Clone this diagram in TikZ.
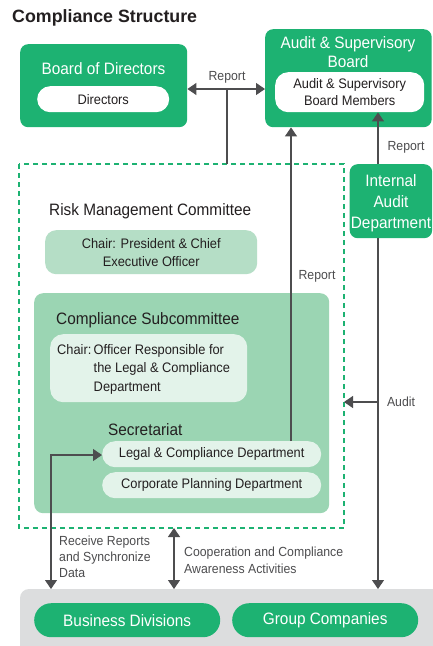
\documentclass[tikz,border=0pt]{standalone}
\usepackage{fontspec}
\setmainfont[FakeStretch=0.93]{Liberation Sans}
\newfontfamily\headfont{Liberation Sans}
\usetikzlibrary{arrows.meta,positioning}
\definecolor{acgreen}{RGB}{29,178,114}
\definecolor{acpale}{RGB}{181,222,198}
\definecolor{acmid}{RGB}{155,213,179}
\definecolor{aclight}{RGB}{227,243,234}
\definecolor{acgray}{RGB}{220,221,222}
\definecolor{acline}{RGB}{77,77,79}
\definecolor{actext}{RGB}{35,31,32}

\begin{document}
\begin{tikzpicture}[x=1pt,y=-1pt,
  greenbox/.style={fill=acgreen, rounded corners=8pt, inner sep=0pt, anchor=north west},
  pill/.style={rounded corners=#1, inner sep=0pt, anchor=north west},
  whitetext/.style={text=white, align=center, font=\fontsize{16.5}{19}\selectfont},
  darktext/.style={text=actext, align=center, font=\fontsize{13.8}{17.5}\selectfont},
  headtext/.style={text=actext, font=\fontsize{16.5}{18}\selectfont},
  labeltext/.style={text=acline, align=left, font=\fontsize{13.2}{16}\selectfont},
  conn/.style={draw=acline, line width=1.1pt},
  tip/.style={-{Triangle[length=9pt,width=12pt]}},
  tips/.style={{Triangle[length=9pt,width=12pt]}-{Triangle[length=9pt,width=12pt]}}
]
\useasboundingbox[fill=white] (0,0) rectangle (432,646);

% title
\node[anchor=west, inner sep=0pt, text=actext, font=\headfont\bfseries\fontsize{17.8}{20}\selectfont] (title) at (12,18) {Compliance Structure};

% board of directors
\node[greenbox, minimum width=167pt, minimum height=83pt] (bod) at (20,44) {};
\node[whitetext] (bodtitle) at (103.5,69) {Board of Directors};
\node[pill=13pt, fill=white, minimum width=132pt, minimum height=26pt, darktext] (dirs) at (37,86) {Directors};

% audit & supervisory board
\node[greenbox, minimum width=166.5pt, minimum height=98pt] (asb) at (265,29) {};
\node[whitetext, font=\fontsize{16.5}{18.5}\selectfont] (asbtitle) at (348,52) {Audit \& Supervisory\\Board};
\node[pill=13pt, fill=white, minimum width=149pt, minimum height=40pt, darktext, font=\fontsize{13.8}{17}\selectfont] (asbm) at (275,72) {Audit \& Supervisory\\Board Members};

% internal audit
\node[greenbox, minimum width=82.5pt, minimum height=74pt] (iad) at (349.5,164) {};
\node[whitetext, font=\fontsize{16.5}{21}\selectfont] (iadtitle) at (391,203) {Internal\\Audit\\Department};

% dashed frame
\draw[draw=acgreen, line width=1.5pt, dash pattern=on 5pt off 4pt] (19,164) rectangle (344,528);
\coordinate (frametop) at (227,164);
\coordinate (frameright) at (344,402);
\coordinate (framebottom) at (174,528);

% risk management committee
\node[headtext, anchor=west, inner sep=0pt] (rmc) at (49,211) {Risk Management Committee};
\node[pill=11pt, fill=acpale, minimum width=212pt, minimum height=44pt, darktext, font=\fontsize{13.8}{18}\selectfont] (rmcchair) at (45,230) {Chair: President \& Chief\\Executive Officer};

% compliance subcommittee
\node[pill=9pt, fill=acmid, minimum width=295pt, minimum height=220pt] (csc) at (34,293) {};
\node[headtext, anchor=west, inner sep=0pt] (csctitle) at (56,320) {Compliance Subcommittee};
\node[pill=13pt, fill=aclight, minimum width=197pt, minimum height=68pt] (cscchair) at (50,334) {};
\node[darktext, anchor=west, inner sep=0pt, align=left, font=\fontsize{13.8}{18.5}\selectfont] (cscchairtext) at (57,369)
  {\begin{tabular}{@{}l@{\,}l@{}}Chair: & Officer Responsible for\\ & the Legal \& Compliance\\ & Department\end{tabular}};
\node[headtext, anchor=west, inner sep=0pt] (secr) at (108,430) {Secretariat};
\node[pill=13pt, fill=aclight, minimum width=219pt, minimum height=26pt, darktext] (lcd) at (102,441) {Legal \& Compliance Department};
\node[pill=13pt, fill=aclight, minimum width=219pt, minimum height=26pt, darktext] (cpd) at (102,472) {Corporate Planning Department};

% business area
\fill[acgray, rounded corners=9pt] (20,589) rectangle (445,660);
\coordinate (areatop) at (20,589);
\node[pill=17pt, fill=acgreen, minimum width=186pt, minimum height=34pt, whitetext] (bd) at (34,603) {Business Divisions};
\node[pill=17pt, fill=acgreen, minimum width=186pt, minimum height=34pt, whitetext] (gc) at (232,603) {Group Companies};

% connectors
\draw[conn, tips] (bod.east |- 0,89) -- (asb.west |- 0,89);
\node[labeltext] (rep1) at (227,77) {Report};
\draw[conn] (227,89) -- (frametop);
\draw[conn, tip] (lcd.north -| 291,0) -- (asb.south -| 291,0);
\node[labeltext] (rep2) at (317,276) {Report};
\draw[conn, tip] (iad.north -| 378,0) -- (asbm.south -| 378,0);
\node[labeltext] (rep3) at (406,147) {Report};
\draw[conn] (iad.south -| 378,0) -- (378,402);
\draw[conn, tip] (378,402) -- (areatop -| 378,0);
\draw[conn, tip] (378,402) -- (frameright);
\node[labeltext] (audit) at (401,402) {Audit};
\draw[conn, tips] (areatop -| 51,0) -- (51,455) -- (lcd.west |- 0,455);
\node[labeltext, anchor=north west, inner sep=0pt, font=\fontsize{13.2}{16}\selectfont] (recv) at (59,536) {Receive Reports\\and Synchronize\\Data};
\draw[conn, tips] (framebottom) -- (areatop -| 174,0);
\node[labeltext, anchor=north west, inner sep=0pt, font=\fontsize{13.2}{17}\selectfont] (coop) at (184,547) {Cooperation and Compliance\\Awareness Activities};
\end{tikzpicture}
\end{document}
